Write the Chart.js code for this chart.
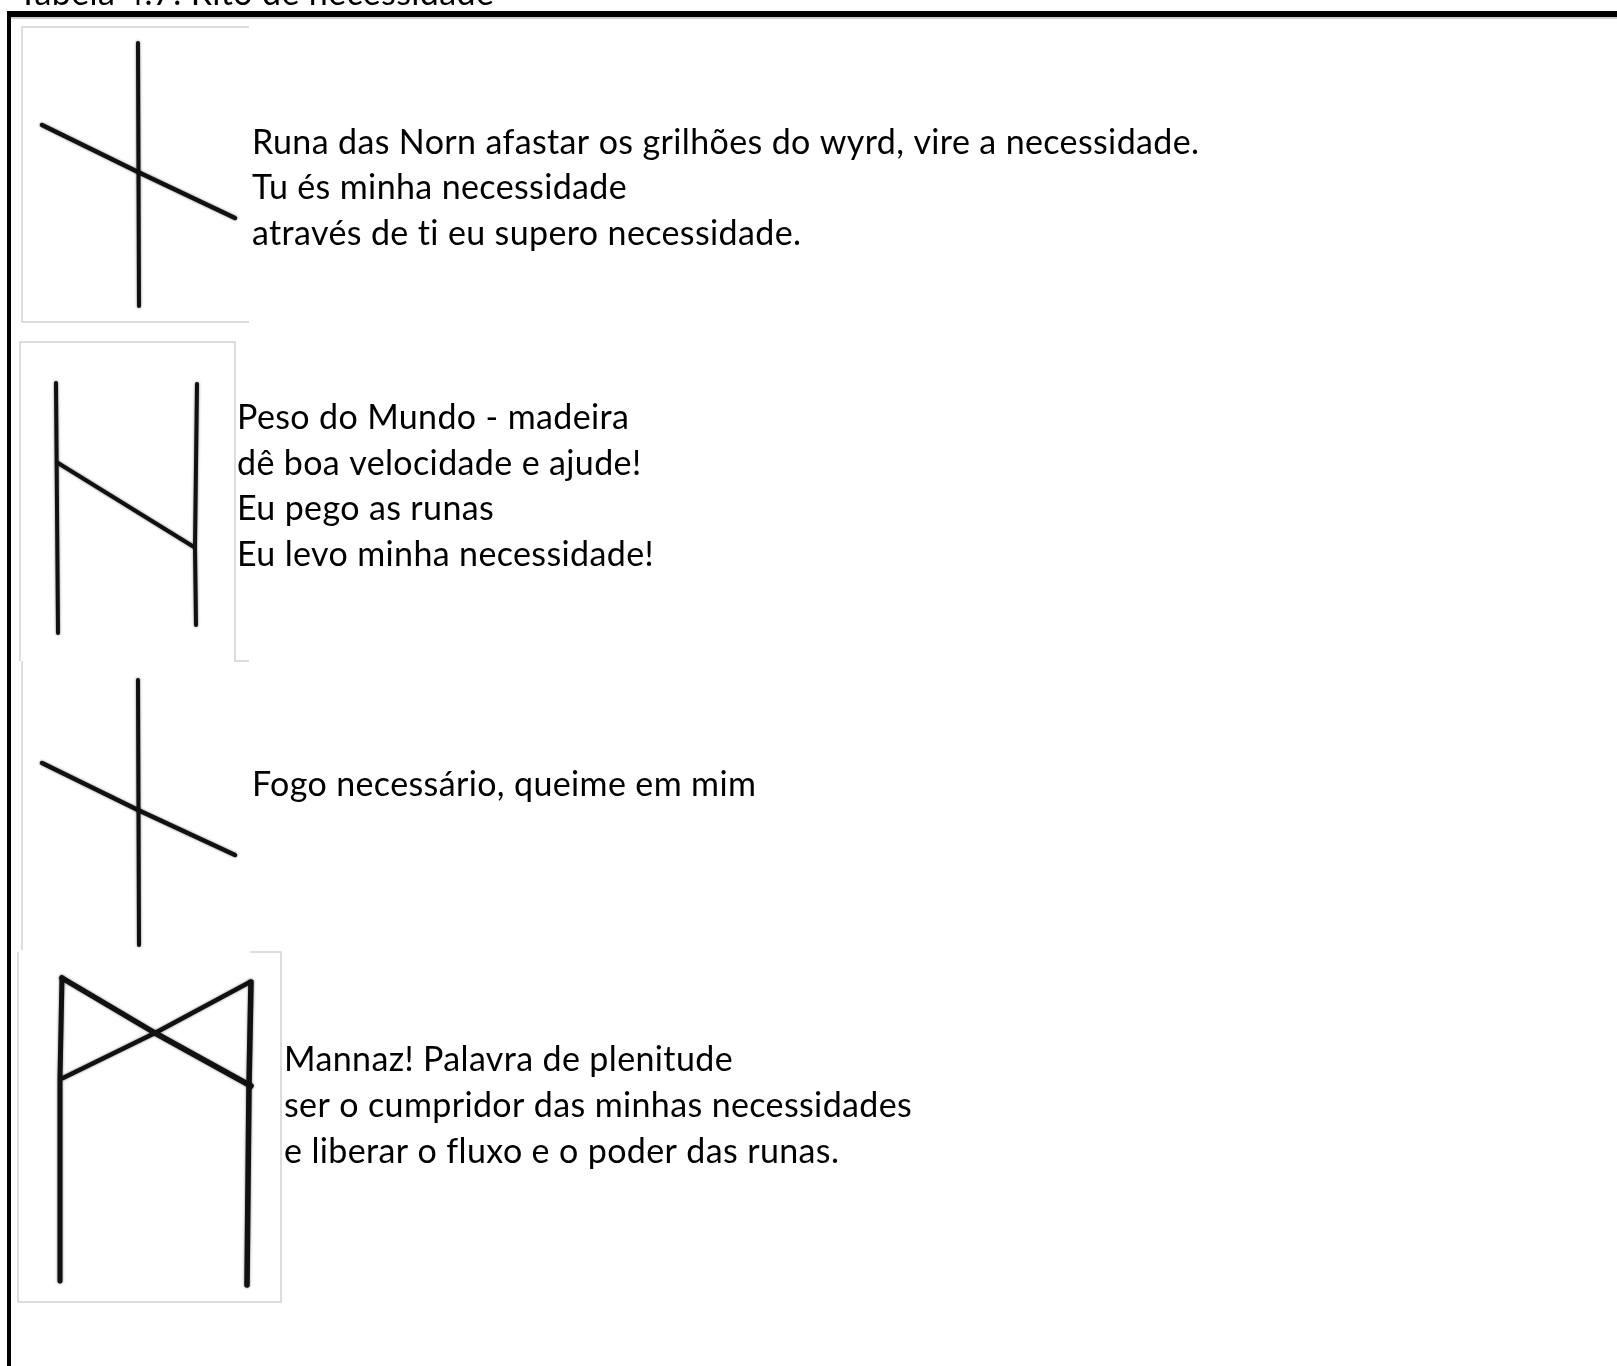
<!DOCTYPE html>
<html>
<head>
<meta charset="utf-8">
<title>Rito de necessidade</title>
<script src="https://cdn.jsdelivr.net/npm/chart.js@4"></script>
<style>
    html, body { margin: 0; padding: 0; background: #fff; overflow: hidden; }
    canvas { display: block; }
</style>
</head>
<body>
<canvas id="canvas" width="1617" height="1366"></canvas>
<script>
// table frame
var frameTopX = [7, 1617], frameTopY = [14, 14];
var frameShadeX = [11, 1617], frameShadeY = [18, 18];
var frameLeftX = [9, 9], frameLeftY = [11, 1366];

// grey edges of the pasted rune pictures
var box1X = [249, 22, 22, 249], box1Y = [27, 27, 322, 322];
var box2X = [249, 235, 235, 20, 20], box2Y = [661, 661, 342, 342, 661];
var box3X = [22, 22], box3Y = [661, 950];
var box4X = [250, 281, 281, 18, 18], box4Y = [952, 952, 1302, 1302, 952];

// naudiz
var rune1StemX = [138, 139], rune1StemY = [43, 306];
var rune1BarX = [42, 138, 235], rune1BarY = [125, 172, 218];

// hagalaz
var rune2LeftX = [56, 58], rune2LeftY = [383, 633];
var rune2RightX = [197, 195, 196], rune2RightY = [384, 547, 625];
var rune2BarX = [58, 194], rune2BarY = [463, 547];

// naudiz again
var rune3StemX = [138, 139], rune3StemY = [680, 945];
var rune3BarX = [42, 138, 235], rune3BarY = [763, 810, 855];

// mannaz
var rune4LeftX = [62, 60, 60], rune4LeftY = [978, 1078, 1281];
var rune4RightX = [251, 249, 247], rune4RightY = [982, 1086, 1285];
var rune4CrossAX = [62, 155, 251], rune4CrossAY = [978, 1033, 1086];
var rune4CrossBX = [63, 155, 250], rune4CrossBY = [1078, 1033, 982];

var titleText = ["Tabela 4.7: Rito de necessidade"];
var row1Text = ["Runa das Norn afastar os grilhões do wyrd, vire a necessidade.", "Tu és minha necessidade", "através de ti eu supero necessidade."];
var row2Text = ["Peso do Mundo - madeira", "dê boa velocidade e ajude!", "Eu pego as runas", "Eu levo minha necessidade!"];
var row3Text = ["Fogo necessário, queime em mim"];
var row4Text = ["Mannaz! Palavra de plenitude", "ser o cumpridor das minhas necessidades", "e liberar o fluxo e o poder das runas."];

function stroke(xs, ys, color, width) {
    return {
        data: xs.map(function (x, i) { return { x: x, y: ys[i] }; }),
        showLine: true,
        borderColor: color,
        borderWidth: width,
        borderCapStyle: "butt",
        borderJoinStyle: "miter",
        pointRadius: 0,
        tension: 0
    };
}

// the runes are scanned, so round ends and a little blur
function runeStroke(xs, ys, width) {
    var set = stroke(xs, ys, "#111111", width);
    set.borderCapStyle = "round";
    set.borderJoinStyle = "round";
    set.soft = true;
    return set;
}

var softInk = {
    id: "softInk",
    beforeDatasetDraw: function (chart, args) {
        if (chart.data.datasets[args.index].soft) {
            chart.ctx.save();
            chart.ctx.shadowColor = "rgba(0,0,0,0.55)";
            chart.ctx.shadowBlur = 2.5;
        }
    },
    afterDatasetDraw: function (chart, args) {
        if (chart.data.datasets[args.index].soft) {
            chart.ctx.restore();
        }
    }
};

// text goes through the chart scales, same as the strokes
var textBlocks = {
    id: "textBlocks",
    afterDatasetsDraw: function (chart) {
        var ctx = chart.ctx;
        var sx = chart.scales.x, sy = chart.scales.y;
        var put = function (lines, x, ys) {
            lines.forEach(function (line, i) {
                ctx.fillText(line, sx.getPixelForValue(x), sy.getPixelForValue(ys[i]));
            });
        };
        ctx.save();
        ctx.fillStyle = "#000";
        ctx.textBaseline = "alphabetic";
        ctx.font = "34px Lato";
        ctx.letterSpacing = "0.37px";
        put(titleText, 18, [5]);
        put(row1Text, 252, [154, 199, 245]);
        put(row2Text, 237, [429, 475, 520, 566]);
        put(row3Text, 252, [796]);
        put(row4Text, 284, [1071, 1117, 1163]);
        ctx.restore();
    }
};

var grey = "#d2d2d2";

new Chart(document.getElementById("canvas").getContext("2d"), {
    type: "scatter",
    data: {
        datasets: [
            stroke(box1X, box1Y, grey, 1.5),
            stroke(box2X, box2Y, grey, 1.5),
            stroke(box3X, box3Y, grey, 1.5),
            stroke(box4X, box4Y, grey, 1.5),
            stroke(frameShadeX, frameShadeY, "#bdbdbd", 1.5),
            stroke(frameTopX, frameTopY, "#000", 6),
            stroke(frameLeftX, frameLeftY, "#000", 4),
            runeStroke(rune1StemX, rune1StemY, 4),
            runeStroke(rune1BarX, rune1BarY, 4.5),
            runeStroke(rune2LeftX, rune2LeftY, 4),
            runeStroke(rune2RightX, rune2RightY, 4),
            runeStroke(rune2BarX, rune2BarY, 4),
            runeStroke(rune3StemX, rune3StemY, 4),
            runeStroke(rune3BarX, rune3BarY, 4.5),
            runeStroke(rune4LeftX, rune4LeftY, 5),
            runeStroke(rune4RightX, rune4RightY, 5.5),
            runeStroke(rune4CrossAX, rune4CrossAY, 5.5),
            runeStroke(rune4CrossBX, rune4CrossBY, 4.5)
        ]
    },
    options: {
        responsive: false,
        animation: false,
        layout: { padding: 0 },
        plugins: { legend: { display: false }, tooltip: { enabled: false } },
        scales: {
            x: { type: "linear", display: false, min: 0, max: 1617 },
            y: { type: "linear", display: false, min: 0, max: 1366, reverse: true }
        }
    },
    plugins: [softInk, textBlocks]
});
</script>
</body>
</html>
